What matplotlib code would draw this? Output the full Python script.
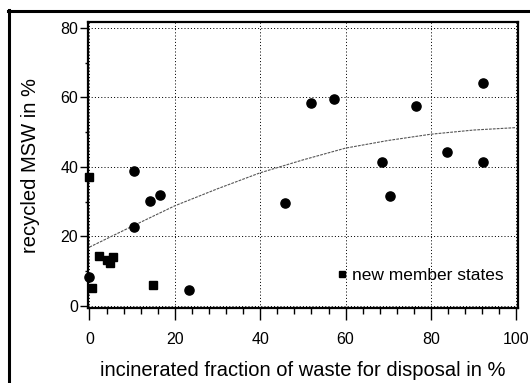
import matplotlib
matplotlib.use("Agg")
import matplotlib.pyplot as plt
from matplotlib.lines import Line2D
import numpy as np

# old member states (circles)
old_x = [0.0, 10.5, 10.5, 14.2, 16.6, 23.3, 45.9, 52.0, 57.4, 68.6, 70.4, 76.5, 83.7, 92.3, 92.3]
old_y = [8.4, 38.8, 22.8, 30.3, 31.9, 4.6, 29.5, 58.5, 59.6, 41.5, 31.7, 57.6, 44.4, 64.1, 41.3]

# new member states (squares)
new_x = [0.0, 0.7, 2.2, 4.2, 4.9, 5.6, 14.9]
new_y = [37.2, 5.1, 14.4, 13.2, 12.3, 14.2, 6.0]

# trend curve
trend_x = [0, 10, 20, 30, 40, 50, 60, 70, 80, 90, 100]
trend_y = [16.9, 22.9, 28.8, 33.7, 38.3, 42.0, 45.4, 47.6, 49.4, 50.6, 51.3]

plt.rcParams['font.family'] = ['Liberation Sans', 'DejaVu Sans']

fig = plt.figure(figsize=(5.3, 3.83), dpi=100)
ax = fig.add_axes([0.166, 0.196, 0.811, 0.7466])

ax.plot(trend_x, trend_y, color='#555555', lw=0.8, ls=(0, (2.5, 1)), zorder=2)
ax.plot(old_x, old_y, 'o', color='black', ms=6.6, clip_on=False, zorder=3)
ax.plot(new_x, new_y, 's', color='black', ms=5.8, clip_on=False, zorder=3,
        label='new member states')

ax.set_xlim(-0.35, 100.35)
ax.set_ylim(-0.6, 81.7)
ax.set_xticks(np.arange(0, 101, 20))
ax.set_xticks(np.arange(0, 101, 4), minor=True)
ax.set_yticks(np.arange(0, 81, 20))
ax.set_yticks(np.arange(0, 81, 10), minor=True)

ax.grid(True, which='major', color='black', lw=0.72, ls=(0, (1, 2.2)))
ax.set_axisbelow(True)

for s in ax.spines.values():
    s.set_linewidth(1.6)

ax.tick_params(axis='x', which='major', length=8.5, width=1, labelsize=11.5, pad=9)
ax.tick_params(axis='x', which='minor', length=4, width=1)
ax.tick_params(axis='y', which='major', length=6, width=1, labelsize=11.5, pad=1)
ax.tick_params(axis='y', which='minor', length=2.5, width=1)

ax.set_xlabel('incinerated fraction of waste for disposal in %', fontsize=14.5)
ax.set_ylabel('recycled MSW in %', fontsize=14.5)
ax.xaxis.set_label_coords(0.5, -0.22)
ax.yaxis.set_label_coords(-0.1326, 0.4965)
ax.xaxis.label.set_va('center')
ax.yaxis.label.set_va('center')

ax.legend(loc='center right', bbox_to_anchor=(0.967, 0.112), frameon=False,
          fontsize=12.5, handlelength=0.5, handletextpad=0.3, borderpad=0,
          borderaxespad=0, markerscale=0.8)

# outer frame of the original figure (partially cropped)
fig.add_artist(Line2D([0.0155, 1.0], [0.9713, 0.9713], color='black', lw=2.2,
                      transform=fig.transFigure))
fig.add_artist(Line2D([0.0179, 0.0179], [0.0, 0.975], color='black', lw=2.2,
                      transform=fig.transFigure))

plt.savefig('out.png', dpi=100)
plt.close()
